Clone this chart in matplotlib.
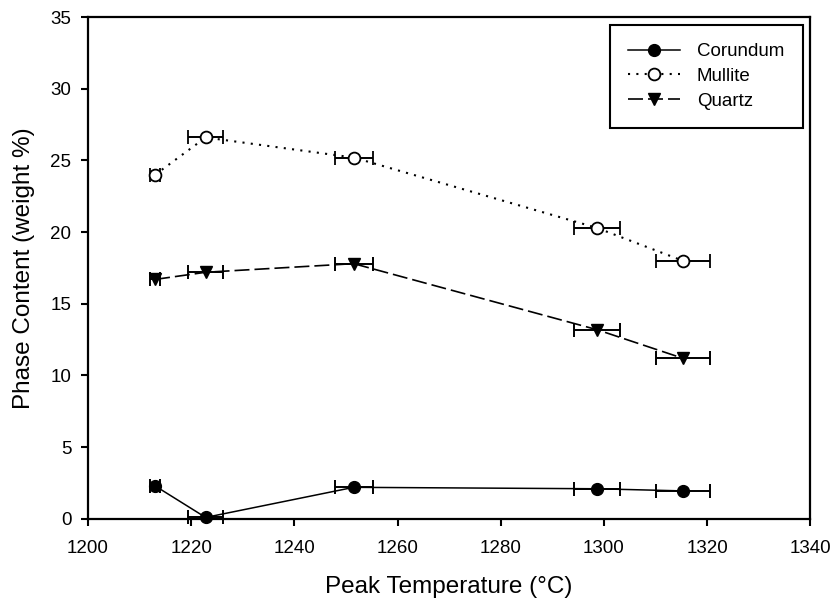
import matplotlib
matplotlib.use("Agg")
import matplotlib.pyplot as plt

plt.rcParams['font.family'] = ['Liberation Sans', 'DejaVu Sans']

# Peak temperatures (°C) and their spread
temperature = [1213.0, 1222.8, 1251.5, 1298.6, 1315.3]
temperature_err = [1.0, 3.4, 3.7, 4.5, 5.2]

# Phase contents (weight %)
corundum = [2.3, 0.1, 2.2, 2.1, 1.95]
mullite = [24.0, 26.6, 25.2, 20.3, 18.0]
quartz = [16.7, 17.2, 17.8, 13.2, 11.2]

x_ticks = [1200, 1220, 1240, 1260, 1280, 1300, 1320, 1340]
y_ticks = [0, 5, 10, 15, 20, 25, 30, 35]

fig = plt.figure(figsize=(8.38, 6.09), dpi=100)
ax = fig.add_axes([0.105, 0.148, 0.862, 0.824])

common = dict(xerr=temperature_err, color='black', ecolor='black',
              elinewidth=1.4, capsize=5, capthick=1.4, markersize=8.5,
              clip_on=False, zorder=3)

ax.errorbar(temperature, corundum, fmt='-o', lw=1.1,
            markerfacecolor='black', label='Corundum', **common)
ax.errorbar(temperature, mullite, fmt='o', linestyle=(0, (1, 3)), lw=1.5,
            markerfacecolor='white', markeredgewidth=1.3,
            label='Mullite', **common)
ax.errorbar(temperature, quartz, fmt='v', linestyle=(0, (9, 3)), lw=1.2,
            markerfacecolor='black', label='Quartz', **common)

ax.set_xlim(1200, 1340)
ax.set_ylim(0, 35)
ax.set_xticks(x_ticks)
ax.set_yticks(y_ticks)
ax.tick_params(axis='both', direction='out', length=5, width=1.5,
               labelsize=13.5, color='black')
ax.tick_params(axis='x', pad=10)
ax.tick_params(axis='y', pad=7)
for side in ax.spines:
    ax.spines[side].set_linewidth(1.6)

ax.set_xlabel('Peak Temperature (°C)', fontsize=17.5, labelpad=14)
ax.set_ylabel('Phase Content (weight %)', fontsize=17.5, labelpad=11)

handles, labels = ax.get_legend_handles_labels()
line_handles = [h[0] for h in handles]
leg = ax.legend(line_handles, labels, loc='upper right', fontsize=13.5,
                numpoints=1, handlelength=2.75, handletextpad=0.9,
                borderpad=1.0, labelspacing=0.4, borderaxespad=0.4,
                fancybox=False, edgecolor='black', framealpha=1)
leg.get_frame().set_linewidth(1.5)

fig.savefig('out.png', dpi=100)
